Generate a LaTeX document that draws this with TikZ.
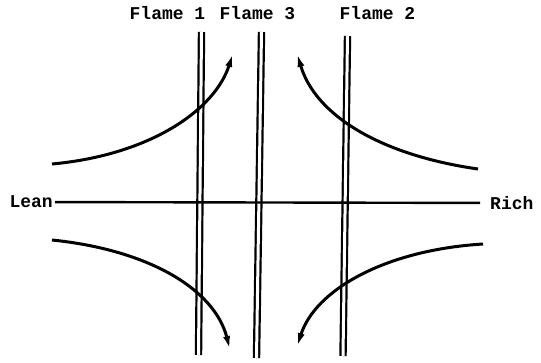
\documentclass[tikz,border=0pt]{standalone}
\usepackage{fontspec}
\newfontfamily\scanfont{Liberation Mono}
\usetikzlibrary{arrows.meta,positioning}

\begin{document}
\begin{tikzpicture}[x=1pt, y=-1pt,
  label/.style={font=\scanfont\bfseries\fontsize{18}{20}\selectfont, inner sep=2pt},
  sheet/.style={double, double distance=3pt, line width=2.2pt},
  path/.style={line width=3pt, -{Latex[length=14pt, width=7pt]}}]
\useasboundingbox (0,0) rectangle (541,362);

\node[label] (f1) at (167.5,13) {Flame 1};
\node[label] (f3) at (257.5,13) {Flame 3};
\node[label] (f2) at (377.5,13) {Flame 2};

\node[label, anchor=east] (lean) at (55,202) {Lean};
\node[label, anchor=west] (rich) at (488,203) {Rich};

% the three flame sheets
\draw[sheet] (201.5,32) -- (198.5,355);
\draw[sheet] (261.5,32) -- (256.5,358);
\draw[sheet] (347.5,36) -- (343,356);

% mixture axis
\draw[line width=2.4pt, shorten >=8pt] (lean) -- (rich);

% stream lines
\draw[path] (52,164) .. controls (150,155) and (215,110) .. (233,53);
\draw[path] (478,169) .. controls (380,155) and (315,115) .. (297,53);
\draw[path] (52,240) .. controls (150,250) and (215,290) .. (230,350);
\draw[path] (483,244) .. controls (385,250) and (315,290) .. (297,347);
\end{tikzpicture}
\end{document}
